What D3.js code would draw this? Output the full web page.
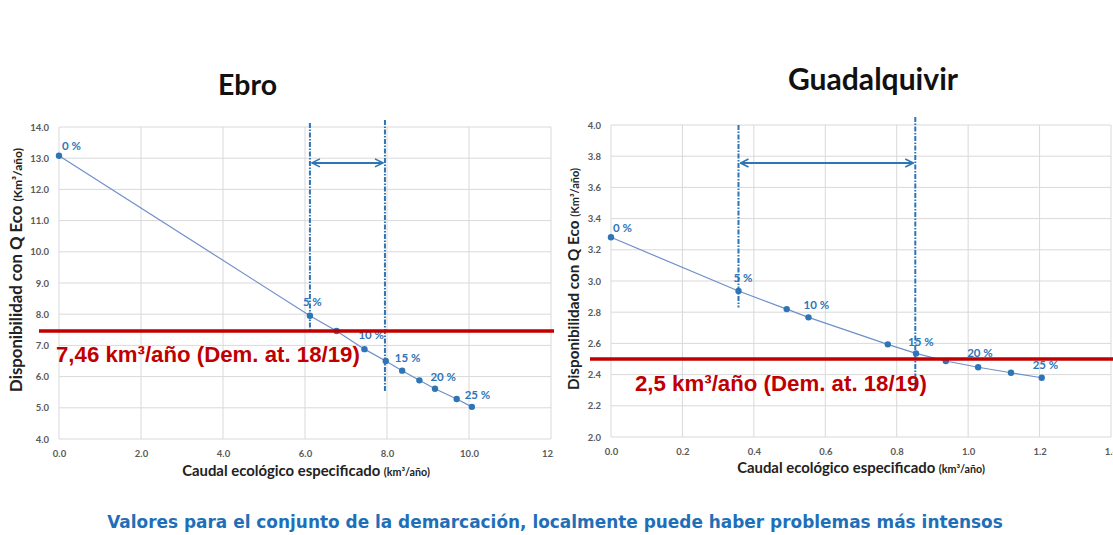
<!DOCTYPE html>
<html><head><meta charset="utf-8">
<script src="https://cdn.jsdelivr.net/npm/d3@7"></script>
<style>
body{margin:0;background:#fff;}
svg{display:block;}
</style></head>
<body>
<svg id="c" width="1113" height="535"></svg>
<script>
// ---------- data ----------
const ebroX = [0, 6.12, 6.77, 7.45, 7.97, 8.37, 8.79, 9.17, 9.70, 10.07];
const ebroY = [13.08, 7.95, 7.46, 6.88, 6.50, 6.19, 5.88, 5.61, 5.28, 5.03];
const ebroPctIdx = [0, 1, 3, 4, 6, 8];
const guadX = [0, 0.357, 0.492, 0.553, 0.775, 0.854, 0.9375, 1.028, 1.12, 1.206];
const guadY = [3.28, 2.936, 2.82, 2.767, 2.594, 2.536, 2.487, 2.447, 2.412, 2.38];
const guadPctIdx = [0, 1, 3, 5, 7, 9];
const pctLabels = ["0 %", "5 %", "10 %", "15 %", "20 %", "25 %"];
const ebroXTicks = [0, 2, 4, 6, 8, 10, 12];
const ebroYTicks = [4, 5, 6, 7, 8, 9, 10, 11, 12, 13, 14];
const guadXTicks = [0, 0.2, 0.4, 0.6, 0.8, 1.0, 1.2, 1.4];
const guadYTicks = [2.0, 2.2, 2.4, 2.6, 2.8, 3.0, 3.2, 3.4, 3.6, 3.8, 4.0];
const ebroDemand = 7.46, guadDemand = 2.5;
const ebroRange = [6.12, 7.95];
const guadRange = [0.357, 0.852];
const titles = ["Ebro", "Guadalquivir"];
const demandTexts = ["7,46 km³/año (Dem. at. 18/19)", "2,5 km³/año (Dem. at. 18/19)"];
const yTitle = "Disponibilidad con Q Eco ", yUnit = "(Km³/año)";
const xTitle = "Caudal ecológico especificado ", xUnit = "(km³/año)";
const footer = "Valores para el conjunto de la demarcación, localmente puede haber problemas más intensos";

// ---------- drawing ----------
const svg = d3.select("#c");
const BLUE = "#2e75b6", RED = "#c00000", GRID = "#d9d9d9", TICK = "#595959";
const defs = svg.append("defs");
defs.append("marker").attr("id","arr").attr("viewBox","0 0 10 10").attr("refX",9).attr("refY",5)
  .attr("markerWidth",5).attr("markerHeight",5).attr("orient","auto-start-reverse")
  .attr("markerUnits","strokeWidth")
  .append("path").attr("d","M1,1 L9,5 L1,9").attr("fill","none").attr("stroke",BLUE).attr("stroke-width",1.6);
defs.append("clipPath").attr("id","clipE").append("rect").attr("x",0).attr("y",0).attr("width",554).attr("height",535);

function fit(sel, w){
  const cur = sel.node().getComputedTextLength();
  const fs = parseFloat(sel.attr("font-size"));
  sel.attr("font-size", (fs*w/cur).toFixed(2));
}

function chart(cfg){
  const g = svg.append("g");
  if (cfg.clip) g.attr("clip-path", cfg.clip);
  const x = d3.scaleLinear().domain(cfg.xDom).range([cfg.left, cfg.right]);
  const y = d3.scaleLinear().domain(cfg.yDom).range([cfg.bottom, cfg.top]);
  // grid
  g.append("g").selectAll("line").data(cfg.yTicks).join("line")
    .attr("x1",cfg.left).attr("x2",cfg.right).attr("y1",d=>y(d)).attr("y2",d=>y(d))
    .attr("stroke",GRID).attr("stroke-width",1);
  g.append("g").selectAll("line").data(cfg.xTicks).join("line")
    .attr("x1",d=>x(d)).attr("x2",d=>x(d)).attr("y1",cfg.top).attr("y2",cfg.bottom)
    .attr("stroke",GRID).attr("stroke-width",1);
  // axes tick labels via d3 axes
  const ya = d3.axisLeft(y).tickValues(cfg.yTicks).tickFormat(d3.format(".1f")).tickSize(0).tickPadding(10);
  const yg = g.append("g").attr("transform",`translate(${cfg.left},0)`).call(ya);
  const xa = d3.axisBottom(x).tickValues(cfg.xTicks).tickFormat(d3.format(".1f")).tickSize(0).tickPadding(11);
  const xg = g.append("g").attr("transform",`translate(0,${cfg.bottom})`).call(xa);
  [yg,xg].forEach(a=>{
    a.select(".domain").remove();
    a.selectAll("text").attr("font-family","Lato, sans-serif").attr("font-weight","bold")
      .attr("font-size",9.5).attr("fill",TICK);
  });
  // range lines (dash-dot)
  cfg.rangeLines.forEach(r=>{
    g.append("line").attr("x1",x(r.x)).attr("x2",x(r.x)).attr("y1",r.y0).attr("y2",y(r.yEnd))
      .attr("stroke",BLUE).attr("stroke-width",2).attr("stroke-dasharray","5,1.5,1.5,1.5");
  });
  // arrow
  g.append("line").attr("x1",x(cfg.range[0])+2).attr("x2",x(cfg.range[1])-2)
    .attr("y1",y(cfg.arrowY)).attr("y2",y(cfg.arrowY))
    .attr("stroke",BLUE).attr("stroke-width",2)
    .attr("marker-start","url(#arr)").attr("marker-end","url(#arr)");
  // data line
  const pts = cfg.xs.map((d,i)=>[d,cfg.ys[i]]);
  g.append("path").datum(pts).attr("fill","none").attr("stroke","#6f8fc9").attr("stroke-width",1.2)
    .attr("d", d3.line().x(d=>x(d[0])).y(d=>y(d[1])));
  g.append("g").selectAll("circle").data(pts).join("circle")
    .attr("cx",d=>x(d[0])).attr("cy",d=>y(d[1])).attr("r",3.2).attr("fill",BLUE);
  // pct labels
  cfg.pctIdx.forEach((idx,k)=>{
    g.append("text").attr("x",x(cfg.xs[idx])+cfg.lblOff[k][0]).attr("y",y(cfg.ys[idx])+cfg.lblOff[k][1])
      .attr("dy","0.35em").attr("font-family","Lato, sans-serif").attr("font-weight","bold")
      .attr("font-size",11.5).attr("fill",BLUE).text(pctLabels[k]);
  });
  // red demand line
  g.append("line").attr("x1",cfg.redX0).attr("x2",cfg.redX1).attr("y1",y(cfg.demand)).attr("y2",y(cfg.demand))
    .attr("stroke",RED).attr("stroke-width",3.5);
  const rt = g.append("text").attr("x",cfg.redTextX).attr("y",cfg.redTextY)
    .attr("font-family","'Liberation Sans', Arial, sans-serif").attr("font-weight","bold")
    .attr("font-size",22).attr("fill",RED).text(cfg.demandText);
  fit(rt, cfg.redTextW);
  // title
  const t = g.append("text").attr("x",cfg.titleX).attr("y",cfg.titleY).attr("text-anchor","middle")
    .attr("font-family","Lato, sans-serif").attr("font-weight","bold").attr("font-size",24)
    .attr("fill","#111").text(cfg.title);
  fit(t, cfg.titleW);
  // y title
  const yt = g.append("text").attr("transform",`translate(${cfg.yTitleX},${cfg.yTitleCY}) rotate(-90)`)
    .attr("text-anchor","middle").attr("font-family","Lato, sans-serif").attr("font-weight","bold")
    .attr("font-size",12.5).attr("fill","#222");
  yt.append("tspan").text(yTitle);
  yt.append("tspan").attr("font-size",9).text(yUnit);
  fit(yt, cfg.yTitleW);
  yt.select("tspan:nth-child(2)").attr("font-size", parseFloat(yt.attr("font-size"))*0.72);
  // x title
  const xt = g.append("text").attr("x",cfg.xTitleCX).attr("y",cfg.xTitleY)
    .attr("text-anchor","middle").attr("font-family","Lato, sans-serif").attr("font-weight","bold")
    .attr("font-size",12.5).attr("fill","#222");
  xt.append("tspan").text(xTitle);
  xt.append("tspan").attr("font-size",9).text(xUnit);
  fit(xt, cfg.xTitleW);
  xt.select("tspan:nth-child(2)").attr("font-size", parseFloat(xt.attr("font-size"))*0.72);
}

chart({
  clip:"url(#clipE)",
  xDom:[0,12], yDom:[4,14], left:59, right:551, top:127, bottom:439,
  xTicks:ebroXTicks, yTicks:ebroYTicks, xs:ebroX, ys:ebroY, pctIdx:ebroPctIdx,
  lblOff:[[3,-10],[-7,-14],[-6,-14],[9,-3],[11,-3],[8,-4]],
  range:ebroRange, arrowY:12.85,
  rangeLines:[{x:ebroRange[0], y0:123, yEnd:ebroDemand},{x:ebroRange[1], y0:120, yEnd:5.5}],
  demand:ebroDemand, redX0:39, redX1:555, demandText:demandTexts[0], redTextX:56, redTextY:362, redTextW:304,
  title:titles[0], titleX:247.5, titleY:95, titleW:59,
  yTitleX:22, yTitleCY:270, yTitleW:244,
  xTitleCX:306, xTitleY:476, xTitleW:248
});
chart({
  xDom:[0,1.4], yDom:[2,4], left:611, right:1111, top:125, bottom:437,
  xTicks:guadXTicks, yTicks:guadYTicks, xs:guadX, ys:guadY, pctIdx:guadPctIdx,
  lblOff:[[2,-9],[-5,-13],[-5,-12],[-8,-11],[-11,-14],[-9,-13]],
  range:guadRange, arrowY:3.756,
  rangeLines:[{x:guadRange[0], y0:125, yEnd:2.83},{x:guadRange[1], y0:117, yEnd:2.29}],
  demand:guadDemand, redX0:590, redX1:1113, demandText:demandTexts[1], redTextX:635, redTextY:391, redTextW:292,
  title:titles[1], titleX:873, titleY:90, titleW:170,
  yTitleX:579, yTitleCY:279, yTitleW:222,
  xTitleCX:861, xTitleY:473, xTitleW:248
});
const ft = svg.append("text").attr("x",555).attr("y",528).attr("text-anchor","middle")
  .attr("font-family","'DejaVu Sans', Verdana, sans-serif").attr("font-weight","bold")
  .attr("font-size",15).attr("fill","#1f6fb8").text(footer);
fit(ft, 896);
</script>
</body></html>
